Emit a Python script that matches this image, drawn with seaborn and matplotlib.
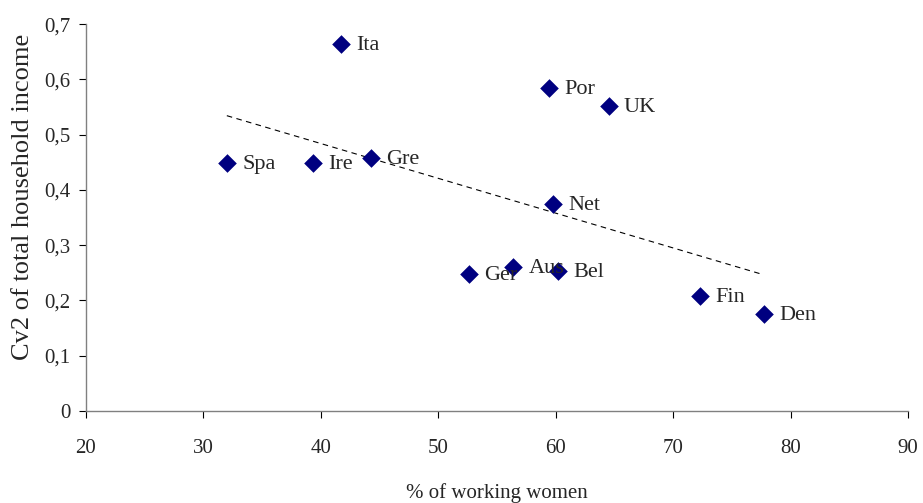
import matplotlib
matplotlib.use("Agg")
import matplotlib.pyplot as plt
import matplotlib.ticker as mticker
import seaborn as sns
import pandas as pd

# data
countries = ["Ita", "Por", "UK", "Spa", "Ire", "Gre", "Net", "Ger", "Aus", "Bel", "Fin", "Den"]
working_women = [41.7, 59.4, 64.5, 32.0, 39.3, 44.3, 59.8, 52.6, 56.4, 60.2, 72.3, 77.7]
cv2_income = [0.664, 0.585, 0.551, 0.449, 0.448, 0.458, 0.374, 0.247, 0.260, 0.253, 0.208, 0.175]

df = pd.DataFrame({"country": countries, "women": working_women, "cv2": cv2_income})

sns.set_style("ticks")
plt.rcParams["font.family"] = ["Liberation Serif", "DejaVu Serif"]
plt.rcParams.update({"font.size": 15})

fig = plt.figure(figsize=(9.23, 5.03), dpi=100)
ax = fig.add_axes([0.093, 0.183, 0.891, 0.769])

# trend line (OLS fit over the points)
sns.regplot(x="women", y="cv2", data=df, scatter=False, ci=None, ax=ax,
            line_kws={"color": "black", "lw": 0.8, "ls": (0, (5, 4))})

sns.scatterplot(x="women", y="cv2", data=df, marker="D", s=90, color="#000080",
                edgecolor="#000080", linewidth=0, ax=ax, zorder=3)

for _, row in df.iterrows():
    ax.annotate(row["country"], (row["women"], row["cv2"]), xytext=(11, -1),
                textcoords="offset points", va="center", ha="left", fontsize=16)

ax.set_xlim(20, 90)
ax.set_ylim(0, 0.7)
ax.set_xticks(range(20, 91, 10))
ax.set_yticks([i / 10 for i in range(8)])
ax.yaxis.set_major_formatter(mticker.FuncFormatter(lambda v, p: f"{v:.1f}".replace(".", ",") if v else "0"))

ax.set_xlabel("% of working women", fontsize=15, va="center")
ax.xaxis.set_label_coords(0.5, -0.212)
ax.set_ylabel("Cv2 of total household income", fontsize=19, va="center")
ax.yaxis.set_label_coords(-0.076, 0.554)

sns.despine(ax=ax)
for side in ["left", "bottom"]:
    ax.spines[side].set_color("#808080")
    ax.spines[side].set_linewidth(1)
ax.tick_params(axis="both", direction="out", length=5, color="#000000", width=0.8, labelsize=15)
ax.tick_params(axis="x", pad=15)
ax.tick_params(axis="y", pad=6)

plt.savefig("out.png", dpi=100)
plt.close()
